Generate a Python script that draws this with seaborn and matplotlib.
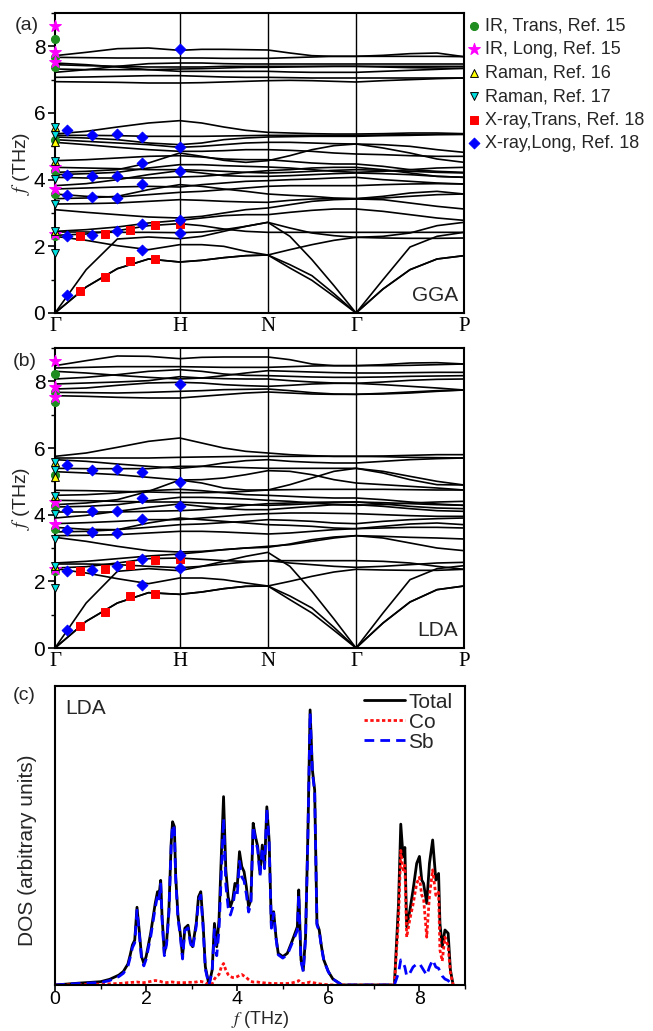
import numpy as np
import pandas as pd
import matplotlib
matplotlib.use("Agg")
import matplotlib.pyplot as plt
from matplotlib.ticker import MultipleLocator
import seaborn as sns

# ---------------------------------------------------------------- path
kpath_labels = ["Γ", "H", "N", "Γ", "P"]
kpath_pos = [0.0, 1.0, 1.7071, 2.4142, 3.2802]
steps_per_segment = 4

# ---------------------------------------------------------------- GGA bands (THz), sampled along Γ-H-N-Γ-P
gga_acoustic = [
    [0.00, 0.78, 1.33, 1.62, 1.53, 1.58, 1.66, 1.72, 1.74, 1.35, 0.98, 0.50, 0.00, 0.72, 1.30, 1.62, 1.72],
    [0.00, 0.78, 1.33, 1.62, 1.53, 1.58, 1.66, 1.72, 1.74, 1.45, 1.12, 0.58, 0.00, 0.72, 1.30, 1.62, 1.72],
    [0.00, 1.30, 2.22, 2.28, 2.23, 2.30, 2.45, 2.60, 2.72, 2.30, 1.60, 0.82, 0.00, 1.00, 1.98, 2.30, 2.42],
]
gga_low = [
    [2.30, 2.18, 2.02, 1.90, 2.05, 2.05, 2.00, 1.85, 1.74, 1.90, 2.05, 2.18, 2.27, 2.25, 2.24, 2.24, 2.25],
    [2.33, 2.37, 2.47, 2.62, 2.68, 2.62, 2.52, 2.45, 2.42, 2.42, 2.42, 2.42, 2.42, 2.42, 2.42, 2.42, 2.42],
    [2.43, 2.43, 2.42, 2.42, 2.41, 2.43, 2.50, 2.60, 2.72, 2.55, 2.40, 2.32, 2.27, 2.30, 2.40, 2.62, 2.72],
    [2.45, 2.50, 2.58, 2.70, 2.78, 2.85, 2.92, 2.95, 2.95, 3.02, 3.08, 3.12, 3.12, 3.05, 2.95, 2.85, 2.78],
    [3.10, 3.02, 2.95, 2.88, 2.85, 2.90, 3.00, 3.10, 3.15, 3.25, 3.35, 3.40, 3.42, 3.40, 3.30, 3.20, 3.12],
    [3.27, 3.28, 3.30, 3.35, 3.40, 3.38, 3.35, 3.33, 3.32, 3.38, 3.42, 3.43, 3.43, 3.45, 3.50, 3.55, 3.57],
]
gga_mid = [
    [3.43, 3.45, 3.50, 3.70, 3.85, 3.80, 3.72, 3.65, 3.57, 3.53, 3.50, 3.45, 3.43, 3.50, 3.60, 3.65, 3.57],
    [3.57, 3.50, 3.48, 3.55, 3.62, 3.65, 3.70, 3.75, 3.80, 3.82, 3.82, 3.82, 3.82, 3.85, 3.87, 3.88, 3.87],
    [3.72, 3.75, 3.78, 3.80, 3.78, 3.85, 3.90, 3.95, 3.97, 4.00, 4.02, 4.05, 4.07, 4.00, 3.95, 3.90, 3.87],
    [3.82, 3.88, 4.00, 4.15, 4.27, 4.20, 4.12, 4.10, 4.10, 4.12, 4.15, 4.18, 4.20, 4.18, 4.15, 4.10, 4.07],
    [4.07, 4.05, 4.05, 4.05, 4.08, 4.10, 4.15, 4.22, 4.27, 4.30, 4.35, 4.37, 4.37, 4.30, 4.20, 4.10, 4.07],
    [4.15, 4.18, 4.22, 4.35, 4.45, 4.45, 4.42, 4.40, 4.38, 4.35, 4.30, 4.25, 4.22, 4.25, 4.30, 4.35, 4.37],
    [4.22, 4.25, 4.30, 4.50, 4.80, 4.70, 4.58, 4.52, 4.57, 4.72, 4.90, 5.02, 5.07, 4.95, 4.80, 4.62, 4.52],
    [4.37, 4.35, 4.33, 4.30, 4.30, 4.28, 4.25, 4.22, 4.20, 4.22, 4.25, 4.28, 4.30, 4.28, 4.25, 4.22, 4.20],
    [4.57, 4.60, 4.65, 4.70, 4.72, 4.68, 4.62, 4.60, 4.60, 4.55, 4.50, 4.47, 4.47, 4.40, 4.30, 4.25, 4.22],
    [5.37, 5.45, 5.58, 5.70, 5.77, 5.70, 5.58, 5.48, 5.42, 5.40, 5.38, 5.37, 5.37, 5.38, 5.40, 5.40, 5.38],
    [5.33, 5.33, 5.32, 5.30, 5.30, 5.30, 5.31, 5.32, 5.33, 5.33, 5.33, 5.33, 5.33, 5.34, 5.35, 5.36, 5.36],
    [5.28, 5.25, 5.20, 5.10, 5.05, 5.10, 5.20, 5.25, 5.28, 5.29, 5.30, 5.30, 5.30, 5.32, 5.33, 5.35, 5.36],
    [5.20, 5.15, 5.10, 5.05, 4.97, 5.00, 5.05, 5.10, 5.12, 5.12, 5.10, 5.08, 5.07, 5.05, 5.00, 4.90, 4.82],
    [5.12, 5.05, 4.97, 4.90, 4.85, 4.85, 4.87, 4.90, 4.90, 4.88, 4.85, 4.80, 4.77, 4.75, 4.72, 4.70, 4.70],
]
gga_high = [
    [7.72, 7.82, 7.93, 7.95, 7.88, 7.91, 7.91, 7.90, 7.89, 7.80, 7.72, 7.70, 7.70, 7.73, 7.78, 7.80, 7.69],
    [7.67, 7.66, 7.65, 7.65, 7.65, 7.65, 7.64, 7.64, 7.64, 7.66, 7.68, 7.70, 7.70, 7.70, 7.70, 7.70, 7.69],
    [7.50, 7.45, 7.38, 7.30, 7.25, 7.25, 7.25, 7.25, 7.25, 7.23, 7.22, 7.22, 7.22, 7.25, 7.28, 7.31, 7.34],
    [7.45, 7.42, 7.40, 7.38, 7.38, 7.38, 7.40, 7.40, 7.40, 7.40, 7.40, 7.40, 7.40, 7.40, 7.40, 7.40, 7.40],
    [7.32, 7.30, 7.30, 7.30, 7.32, 7.33, 7.35, 7.37, 7.37, 7.38, 7.39, 7.40, 7.40, 7.38, 7.36, 7.35, 7.34],
    [7.22, 7.30, 7.40, 7.48, 7.50, 7.50, 7.48, 7.47, 7.47, 7.47, 7.47, 7.47, 7.47, 7.47, 7.47, 7.47, 7.47],
    [7.07, 7.08, 7.10, 7.12, 7.12, 7.10, 7.08, 7.07, 7.07, 7.06, 7.05, 7.05, 7.05, 7.05, 7.05, 7.05, 7.05],
    [6.94, 6.93, 6.92, 6.90, 6.90, 6.91, 6.93, 6.95, 6.97, 6.98, 6.97, 6.95, 6.93, 6.97, 7.00, 7.03, 7.05],
]

# ---------------------------------------------------------------- LDA bands (THz)
lda_acoustic = [
    [0.00, 0.80, 1.35, 1.66, 1.61, 1.68, 1.78, 1.85, 1.86, 1.45, 1.05, 0.53, 0.00, 0.75, 1.38, 1.75, 1.86],
    [0.00, 0.80, 1.35, 1.66, 1.61, 1.68, 1.78, 1.85, 1.86, 1.56, 1.20, 0.62, 0.00, 0.75, 1.38, 1.75, 1.86],
    [0.00, 1.35, 2.30, 2.38, 2.32, 2.45, 2.60, 2.75, 2.87, 2.45, 1.70, 0.87, 0.00, 1.05, 2.05, 2.38, 2.47],
]
lda_low = [
    [2.38, 2.25, 2.08, 1.93, 2.10, 2.10, 2.05, 1.95, 1.86, 2.00, 2.15, 2.28, 2.36, 2.34, 2.33, 2.33, 2.36],
    [2.40, 2.44, 2.55, 2.68, 2.70, 2.66, 2.62, 2.60, 2.62, 2.55, 2.50, 2.45, 2.42, 2.45, 2.50, 2.55, 2.57],
    [2.52, 2.52, 2.50, 2.45, 2.41, 2.45, 2.52, 2.58, 2.62, 2.62, 2.62, 2.62, 2.62, 2.60, 2.55, 2.45, 2.36],
    [2.55, 2.60, 2.68, 2.76, 2.82, 2.88, 2.95, 3.00, 3.02, 3.12, 3.25, 3.33, 3.37, 3.30, 3.15, 3.00, 2.92],
    [3.32, 3.20, 3.05, 2.92, 2.88, 2.90, 2.95, 3.00, 3.05, 3.10, 3.20, 3.30, 3.37, 3.35, 3.32, 3.30, 3.27],
    [3.37, 3.38, 3.40, 3.45, 3.50, 3.50, 3.48, 3.45, 3.42, 3.45, 3.50, 3.55, 3.58, 3.60, 3.62, 3.62, 3.60],
]
lda_mid = [
    [3.48, 3.50, 3.55, 3.75, 3.90, 3.85, 3.80, 3.75, 3.70, 3.68, 3.65, 3.60, 3.58, 3.65, 3.72, 3.75, 3.70],
    [3.62, 3.56, 3.55, 3.62, 3.70, 3.72, 3.76, 3.80, 3.85, 3.83, 3.80, 3.75, 3.73, 3.80, 3.85, 3.88, 3.90],
    [3.73, 3.76, 3.80, 3.85, 3.85, 3.90, 3.95, 4.00, 4.03, 4.05, 4.05, 4.04, 4.03, 4.00, 3.97, 3.95, 3.95],
    [3.90, 3.98, 4.10, 4.22, 4.32, 4.25, 4.18, 4.15, 4.15, 4.20, 4.25, 4.30, 4.30, 4.25, 4.18, 4.12, 4.10],
    [4.08, 4.08, 4.08, 4.10, 4.12, 4.15, 4.20, 4.28, 4.33, 4.35, 4.37, 4.38, 4.38, 4.32, 4.25, 4.20, 4.18],
    [4.23, 4.25, 4.30, 4.42, 4.52, 4.52, 4.50, 4.47, 4.43, 4.40, 4.35, 4.30, 4.28, 4.30, 4.35, 4.38, 4.40],
    [4.30, 4.35, 4.45, 4.70, 5.04, 4.95, 4.80, 4.74, 4.74, 4.90, 5.10, 5.30, 5.39, 5.25, 5.05, 4.90, 4.89],
    [4.43, 4.42, 4.40, 4.38, 4.38, 4.35, 4.32, 4.30, 4.28, 4.30, 4.33, 4.36, 4.38, 4.36, 4.33, 4.30, 4.28],
    [4.58, 4.60, 4.65, 4.72, 4.76, 4.72, 4.66, 4.60, 4.58, 4.55, 4.52, 4.50, 4.50, 4.45, 4.38, 4.32, 4.28],
    [4.73, 4.72, 4.70, 4.68, 4.66, 4.66, 4.67, 4.70, 4.74, 4.75, 4.76, 4.76, 4.76, 4.76, 4.75, 4.74, 4.74],
    [5.75, 5.85, 6.02, 6.20, 6.30, 6.15, 6.00, 5.90, 5.85, 5.80, 5.77, 5.75, 5.75, 5.76, 5.78, 5.80, 5.80],
    [5.70, 5.70, 5.70, 5.70, 5.72, 5.73, 5.74, 5.75, 5.75, 5.75, 5.75, 5.75, 5.75, 5.74, 5.72, 5.71, 5.70],
    [5.65, 5.60, 5.52, 5.45, 5.39, 5.45, 5.55, 5.62, 5.65, 5.60, 5.57, 5.55, 5.55, 5.60, 5.65, 5.68, 5.70],
    [5.39, 5.38, 5.38, 5.38, 5.45, 5.45, 5.43, 5.41, 5.39, 5.39, 5.39, 5.39, 5.39, 5.30, 5.15, 5.00, 4.89],
    [5.29, 5.25, 5.20, 5.12, 5.04, 5.05, 5.10, 5.20, 5.32, 5.30, 5.20, 5.05, 4.95, 4.90, 4.85, 4.80, 4.74],
]
lda_high = [
    [8.47, 8.62, 8.76, 8.75, 8.68, 8.72, 8.73, 8.73, 8.73, 8.65, 8.52, 8.47, 8.47, 8.50, 8.55, 8.56, 8.52],
    [8.40, 8.42, 8.44, 8.44, 8.44, 8.43, 8.42, 8.42, 8.42, 8.44, 8.46, 8.47, 8.47, 8.47, 8.48, 8.50, 8.52],
    [8.30, 8.25, 8.18, 8.12, 8.07, 8.10, 8.17, 8.25, 8.32, 8.30, 8.28, 8.26, 8.25, 8.25, 8.26, 8.27, 8.27],
    [8.07, 8.12, 8.20, 8.30, 8.35, 8.30, 8.22, 8.18, 8.17, 8.15, 8.13, 8.12, 8.12, 8.13, 8.15, 8.16, 8.17],
    [7.92, 7.95, 7.98, 8.02, 8.14, 8.10, 8.08, 8.07, 8.07, 8.02, 7.98, 7.95, 7.94, 7.98, 8.03, 8.06, 8.07],
    [7.77, 7.80, 7.88, 7.95, 7.97, 7.95, 7.90, 7.87, 7.85, 7.88, 7.92, 7.94, 7.94, 7.90, 7.85, 7.80, 7.74],
    [7.67, 7.66, 7.65, 7.67, 7.70, 7.72, 7.75, 7.76, 7.77, 7.72, 7.66, 7.62, 7.61, 7.64, 7.68, 7.72, 7.74],
    [7.57, 7.55, 7.52, 7.50, 7.50, 7.55, 7.60, 7.65, 7.68, 7.65, 7.62, 7.61, 7.61, 7.62, 7.65, 7.70, 7.74],
]

# ---------------------------------------------------------------- experimental zone-centre / Γ-H data (THz)
ir_trans = [8.22, 7.67, 7.37, 5.20, 4.25, 3.57, 2.30]
ir_long = [8.62, 7.84, 7.53, 4.37, 3.73, 2.38]
raman_16 = [5.57, 5.12, 4.57, 2.45]
raman_17 = [5.57, 5.34, 4.57, 4.02, 3.27, 2.45, 1.80]
xray_trans_k = [0.2, 0.4, 0.6, 0.8, 0.2, 0.4, 0.6, 0.8, 1.0]
xray_trans_f = [0.66, 1.08, 1.56, 1.63, 2.32, 2.36, 2.48, 2.65, 2.68]
xray_long_k = [0.1, 0.1, 0.1, 0.1, 0.1, 0.3, 0.3, 0.3, 0.3, 0.5, 0.5, 0.5, 0.5,
               0.7, 0.7, 0.7, 0.7, 0.7, 1.0, 1.0, 1.0, 1.0, 1.0]
xray_long_f = [0.55, 2.32, 3.55, 4.15, 5.48, 2.33, 3.47, 4.12, 5.35, 2.45, 3.45, 4.12, 5.36,
               1.88, 2.68, 3.87, 4.50, 5.27, 2.41, 2.78, 4.25, 4.97, 7.93]

# ---------------------------------------------------------------- LDA phonon DOS (arbitrary units)
dos_freq = [
    0.00, 0.50, 1.00, 1.20, 1.40, 1.50, 1.60, 1.65, 1.70, 1.75,
    1.80, 1.85, 1.90, 1.95, 2.00, 2.10, 2.20, 2.25, 2.28, 2.32,
    2.35, 2.40, 2.45, 2.50, 2.55, 2.58, 2.62, 2.65, 2.70, 2.75,
    2.80, 2.85, 2.92, 2.97, 3.02, 3.10, 3.15, 3.20, 3.25, 3.30,
    3.38, 3.45, 3.50, 3.55, 3.60, 3.65, 3.70, 3.75, 3.80, 3.85,
    3.90, 3.95, 4.00, 4.05, 4.10, 4.15, 4.20, 4.25, 4.30, 4.35,
    4.40, 4.45, 4.50, 4.55, 4.60, 4.65, 4.70, 4.75, 4.80, 4.85,
    4.90, 5.00, 5.10, 5.20, 5.28, 5.32, 5.35, 5.40, 5.45, 5.50,
    5.55, 5.60, 5.65, 5.70, 5.75, 5.80, 5.85, 5.90, 6.00, 6.10,
    6.30, 7.00, 7.45, 7.54, 7.59, 7.64, 7.68, 7.72, 7.79, 7.86,
    7.94, 8.00, 8.05, 8.09, 8.16, 8.22, 8.29, 8.36, 8.42, 8.45,
    8.50, 8.56, 8.63, 8.68, 8.74,
]
dos_total = [
    0.000, 0.006, 0.011, 0.019, 0.033, 0.045, 0.070, 0.100, 0.134, 0.150,
    0.260, 0.180, 0.095, 0.072, 0.095, 0.173, 0.273, 0.312, 0.295, 0.350,
    0.230, 0.106, 0.145, 0.250, 0.474, 0.546, 0.530, 0.362, 0.230, 0.173,
    0.095, 0.190, 0.200, 0.150, 0.128, 0.206, 0.295, 0.312, 0.206, 0.061,
    0.000, 0.050, 0.206, 0.128, 0.217, 0.430, 0.630, 0.385, 0.295, 0.262,
    0.284, 0.340, 0.329, 0.446, 0.396, 0.379, 0.329, 0.262, 0.284, 0.541,
    0.496, 0.463, 0.373, 0.468, 0.396, 0.596, 0.485, 0.195, 0.245, 0.162,
    0.106, 0.095, 0.106, 0.145, 0.178, 0.195, 0.318, 0.084, 0.050, 0.162,
    0.496, 0.920, 0.720, 0.652, 0.206, 0.184, 0.128, 0.084, 0.045, 0.020,
    0.000, 0.000, 0.000, 0.270, 0.538, 0.430, 0.460, 0.195, 0.250, 0.318,
    0.407, 0.430, 0.351, 0.340, 0.273, 0.407, 0.485, 0.351, 0.373, 0.206,
    0.128, 0.184, 0.173, 0.050, 0.000,
]
dos_co = [
    0.000, 0.001, 0.003, 0.004, 0.005, 0.006, 0.008, 0.008, 0.009, 0.009,
    0.010, 0.009, 0.008, 0.008, 0.009, 0.012, 0.015, 0.014, 0.013, 0.012,
    0.010, 0.008, 0.008, 0.009, 0.010, 0.010, 0.009, 0.008, 0.008, 0.008,
    0.008, 0.008, 0.009, 0.009, 0.009, 0.010, 0.012, 0.012, 0.010, 0.008,
    0.000, 0.004, 0.020, 0.030, 0.035, 0.060, 0.072, 0.050, 0.035, 0.028,
    0.025, 0.025, 0.028, 0.032, 0.035, 0.030, 0.025, 0.018, 0.012, 0.010,
    0.010, 0.010, 0.008, 0.008, 0.007, 0.006, 0.006, 0.005, 0.005, 0.005,
    0.005, 0.005, 0.005, 0.007, 0.010, 0.012, 0.015, 0.006, 0.005, 0.006,
    0.008, 0.010, 0.008, 0.007, 0.005, 0.004, 0.003, 0.002, 0.001, 0.000,
    0.000, 0.000, 0.000, 0.220, 0.450, 0.385, 0.400, 0.160, 0.220, 0.270,
    0.340, 0.360, 0.300, 0.290, 0.160, 0.300, 0.385, 0.300, 0.310, 0.117,
    0.080, 0.160, 0.130, 0.040, 0.000,
]
dos_sb = [
    0.000, 0.005, 0.008, 0.015, 0.028, 0.039, 0.062, 0.092, 0.125, 0.141,
    0.250, 0.171, 0.087, 0.064, 0.086, 0.161, 0.258, 0.298, 0.282, 0.338,
    0.220, 0.098, 0.137, 0.241, 0.464, 0.536, 0.521, 0.354, 0.222, 0.165,
    0.087, 0.182, 0.191, 0.141, 0.119, 0.196, 0.283, 0.300, 0.196, 0.053,
    0.000, 0.046, 0.186, 0.098, 0.182, 0.370, 0.558, 0.335, 0.260, 0.234,
    0.259, 0.315, 0.301, 0.414, 0.361, 0.349, 0.304, 0.244, 0.272, 0.531,
    0.486, 0.453, 0.365, 0.460, 0.389, 0.590, 0.479, 0.190, 0.240, 0.157,
    0.101, 0.090, 0.101, 0.138, 0.168, 0.183, 0.303, 0.078, 0.045, 0.156,
    0.486, 0.910, 0.712, 0.645, 0.201, 0.180, 0.125, 0.082, 0.044, 0.020,
    0.000, 0.000, 0.000, 0.040, 0.084, 0.075, 0.060, 0.030, 0.040, 0.060,
    0.070, 0.072, 0.060, 0.050, 0.033, 0.060, 0.084, 0.060, 0.056, 0.045,
    0.030, 0.020, 0.015, 0.006, 0.000,
]

# ---------------------------------------------------------------- style
sns.set_style("ticks")
plt.rcParams["font.family"] = ["Liberation Sans", "DejaVu Sans"]
plt.rcParams["mathtext.fontset"] = "stix"
plt.rcParams["axes.linewidth"] = 1.5
plt.rcParams["axes.edgecolor"] = "black"
plt.rcParams["xtick.color"] = "black"
plt.rcParams["ytick.color"] = "black"
plt.rcParams["xtick.direction"] = "out"
plt.rcParams["ytick.direction"] = "out"

W, H = 653, 1031
fig = plt.figure(figsize=(W / 100, H / 100), dpi=100)


def frac_box(x0, y0, x1, y1):
    return [x0 / W, 1 - y1 / H, (x1 - x0) / W, (y1 - y0) / H]


ax_a = fig.add_axes(frac_box(55, 13, 464, 313))
ax_b = fig.add_axes(frac_box(55, 348, 464, 648))
ax_c = fig.add_axes(frac_box(55, 686, 465, 985))

# k grid along the path
k_grid = np.concatenate(
    [np.linspace(a, b, steps_per_segment + 1)[:-1] for a, b in zip(kpath_pos[:-1], kpath_pos[1:])]
    + [[kpath_pos[-1]]]
)


def band_frame(*groups):
    rows = []
    idx = 0
    for group in groups:
        for band in group:
            for k, f in zip(k_grid, band):
                rows.append((idx, k, f))
            idx += 1
    return pd.DataFrame(rows, columns=["band", "k", "f"])


marker_specs = [
    ("IR, Trans, Ref. 15", "o", "#1e8c1e", "#1e8c1e", 34),
    ("IR, Long, Ref. 15", "*", "#ff00ff", "#ff00ff", 80),
    ("Raman, Ref. 16", "^", "#ffff00", "black", 32),
    ("Raman, Ref. 17", "v", "#00e0e0", "black", 32),
    ("X-ray,Trans, Ref. 18", "s", "#ff0000", "#ff0000", 32),
    ("X-ray,Long, Ref. 18", "D", "#0000ff", "#0000ff", 30),
]
marker_x = [
    [0.0] * len(ir_trans),
    [0.0] * len(ir_long),
    [0.0] * len(raman_16),
    [0.0] * len(raman_17),
    xray_trans_k,
    xray_long_k,
]
marker_y = [ir_trans, ir_long, raman_16, raman_17, xray_trans_f, xray_long_f]


def draw_dispersion(ax, df, tag):
    for xv in kpath_pos[1:-1]:
        ax.axvline(xv, color="black", lw=1.0, zorder=1)
    sns.lineplot(data=df, x="k", y="f", units="band", estimator=None, sort=False,
                 color="black", linewidth=1.2, ax=ax, legend=False, zorder=2)
    for (label, m, fc, ec, s), xs, ys in zip(marker_specs, marker_x, marker_y):
        sns.scatterplot(x=xs, y=ys, marker=m, s=s, color=fc, edgecolor=ec,
                        linewidth=0.7, ax=ax, label=label, clip_on=False, zorder=5)
    ax.set_xlim(kpath_pos[0], kpath_pos[-1])
    ax.set_ylim(0, 9)
    ax.set_xticks(kpath_pos)
    ax.set_xticklabels(kpath_labels, fontfamily="Liberation Serif", fontsize=15)
    ax.tick_params(axis="x", length=0, pad=3)
    ax.yaxis.set_major_locator(MultipleLocator(2))
    ax.yaxis.set_minor_locator(MultipleLocator(1))
    ax.tick_params(axis="y", which="major", length=5, width=1.2, labelsize=15, pad=2)
    ax.tick_params(axis="y", which="minor", length=3, width=1.0)
    ax.set_xlabel("")
    ax.set_ylabel(r"$f$ (THz)", fontsize=14, labelpad=1)
    ax.text(0.985, 0.025, tag, transform=ax.transAxes, ha="right", va="bottom", fontsize=15)


draw_dispersion(ax_a, band_frame(gga_acoustic, gga_low, gga_mid, gga_high), "GGA")
draw_dispersion(ax_b, band_frame(lda_acoustic, lda_low, lda_mid, lda_high), "LDA")

ax_a.legend(loc="upper left", bbox_to_anchor=(1.0, 1.0), frameon=False, fontsize=13,
            handlelength=0.6, handletextpad=0.3, borderaxespad=0.0, borderpad=0.25,
            labelspacing=0.36, scatterpoints=1)
ax_b.get_legend().remove()

# ---------------------------------------------------------------- DOS panel
sns.lineplot(x=dos_freq, y=dos_total, color="black", linewidth=2.0, ax=ax_c,
             label="Total", sort=False)
sns.lineplot(x=dos_freq, y=dos_co, color="#ff1010", linewidth=2.0, ax=ax_c,
             label="Co", sort=False, linestyle=(0, (1.2, 0.9)))
sns.lineplot(x=dos_freq, y=dos_sb, color="#0000ff", linewidth=2.0, ax=ax_c,
             label="Sb", sort=False, linestyle=(0, (3.5, 2.2)))
ax_c.set_xlim(0, 9)
ax_c.set_ylim(0, 1.0)
ax_c.set_yticks([])
ax_c.xaxis.set_major_locator(MultipleLocator(2))
ax_c.xaxis.set_minor_locator(MultipleLocator(1))
ax_c.tick_params(axis="x", which="major", length=4, width=1.2, labelsize=14, pad=0)
ax_c.tick_params(axis="x", which="minor", length=3, width=1.0)
ax_c.set_xlabel(r"$f$ (THz)", fontsize=13)
ax_c.xaxis.set_label_coords(0.5, -0.08)
ax_c.set_ylabel("DOS (arbitrary units)", fontsize=15)
ax_c.yaxis.set_label_coords(-0.045, 0.45)
ax_c.text(0.025, 0.955, "LDA", transform=ax_c.transAxes, ha="left", va="top", fontsize=15)
ax_c.legend(loc="upper right", bbox_to_anchor=(0.975, 0.985), frameon=False, fontsize=15,
            handlelength=2.0, handletextpad=0.15, labelspacing=0.05, borderaxespad=0.0,
            borderpad=0.1)

for ax in (ax_a, ax_b, ax_c):
    for sp in ax.spines.values():
        sp.set_linewidth(1.5)
        sp.set_color("black")

fig.text(15 / W, 1 - 26 / H, "(a)", fontsize=14, ha="left", va="center")
fig.text(13 / W, 1 - 361 / H, "(b)", fontsize=14, ha="left", va="center")
fig.text(13 / W, 1 - 696 / H, "(c)", fontsize=14, ha="left", va="center")

fig.savefig("out.png", dpi=100)
